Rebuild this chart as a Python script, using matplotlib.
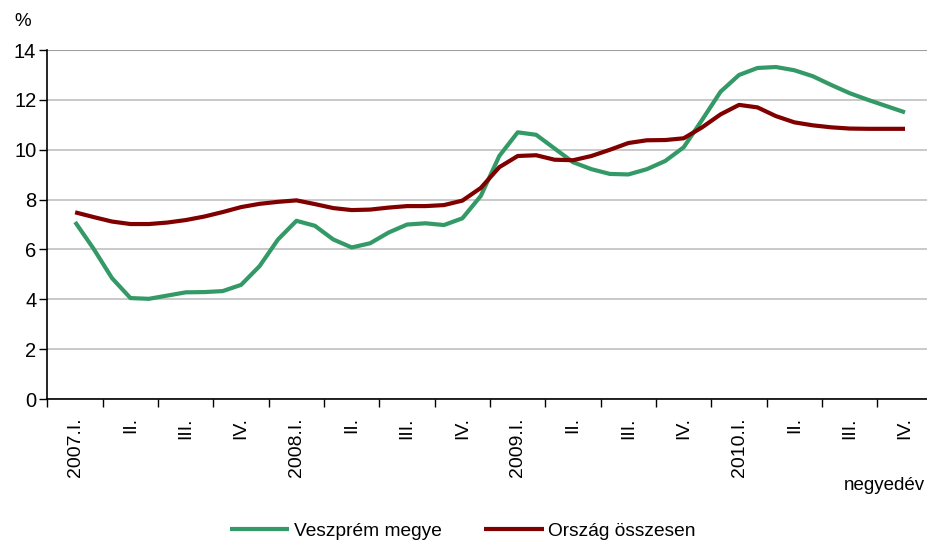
import numpy as np
import matplotlib
matplotlib.use("Agg")
import matplotlib.pyplot as plt

plt.rcParams['font.family'] = ['Liberation Sans', 'DejaVu Sans']

# quarter labels (each quarter = 3 monthly points)
quarters = ['2007.I.', 'II.', 'III.', 'IV.',
            '2008.I.', 'II.', 'III.', 'IV.',
            '2009.I.', 'II.', 'III.', 'IV.',
            '2010.I.', 'II.', 'III.', 'IV.']

# monthly values, Feb 2007 .. Nov 2010
veszprem = [7.10, 6.03, 4.85, 4.05, 4.02, 4.15, 4.28, 4.29, 4.33, 4.58,
            5.33, 6.40, 7.15, 6.95, 6.40, 6.08, 6.25, 6.68, 7.00, 7.05,
            6.98, 7.25, 8.15, 9.75, 10.70, 10.60, 10.05, 9.50, 9.22, 9.03,
            9.01, 9.22, 9.55, 10.10, 11.20, 12.33, 13.00, 13.28, 13.32, 13.19,
            12.95, 12.60, 12.27, 12.00, 11.75, 11.50]
orszag = [7.49, 7.30, 7.12, 7.02, 7.02, 7.08, 7.18, 7.32, 7.50, 7.70,
          7.83, 7.91, 7.97, 7.82, 7.66, 7.58, 7.60, 7.68, 7.74, 7.74,
          7.78, 7.96, 8.47, 9.30, 9.75, 9.78, 9.60, 9.58, 9.75, 10.00,
          10.27, 10.38, 10.39, 10.46, 10.90, 11.42, 11.80, 11.70, 11.35, 11.10,
          10.98, 10.90, 10.85, 10.84, 10.84, 10.84]

green = '#339966'
maroon = '#800000'

months = np.arange(len(veszprem)) + 1

fig = plt.figure(figsize=(9.27, 5.44), dpi=100)
ax = fig.add_axes([0.0512, 0.2665, 0.9549, 0.6415])

ax.plot(months, veszprem, color=green, lw=3, label='Veszprém megye', solid_capstyle='butt')
ax.plot(months, orszag, color=maroon, lw=3, label='Ország összesen', solid_capstyle='butt')

ax.set_ylim(0, 14)
ax.set_xlim(-0.5, 3 * len(quarters) - 0.5)
ax.set_yticks(np.arange(0, 15, 2))
ax.yaxis.grid(True, color='#c0c0c0', lw=1.2)
ax.axhline(14, color='#a0a0a0', lw=1.5, zorder=1)
ax.set_axisbelow(True)

ax.set_xticks(np.arange(len(quarters)) * 3 + 1)
ax.set_xticklabels(quarters, rotation=90, va='top', ha='center')
ax.set_xticks(np.arange(len(quarters) + 1) * 3 - 0.5, minor=True)
ax.tick_params(axis='x', which='major', length=0, pad=13, labelsize=14)
ax.tick_params(axis='x', which='minor', length=6, width=1, direction='out')
ax.tick_params(axis='y', length=6, width=1, pad=2, labelsize=14.5)

for s in ['top', 'right']:
    ax.spines[s].set_visible(False)
for s in ['left', 'bottom']:
    ax.spines[s].set_linewidth(1.2)
    ax.spines[s].set_color('black')

fig.text(14 / 927, 1 - 21 / 544, '%', fontsize=13.5, ha='left', va='center')
fig.text(925 / 927, 1 - 485 / 544, 'negyedév', fontsize=13.5, ha='right', va='center')

fig.legend(loc='center', bbox_to_anchor=(463 / 927, 1 - 531 / 544), ncol=2,
           frameon=False, fontsize=13.8, handlelength=3.1, handletextpad=0.25,
           columnspacing=2.2)

fig.savefig('out.png', dpi=100)
